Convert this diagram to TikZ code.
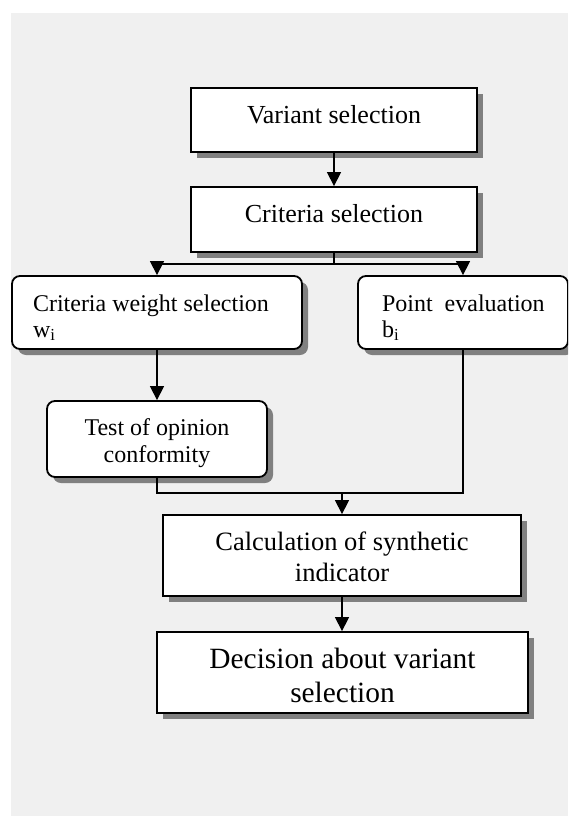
\documentclass[tikz,border=0pt]{standalone}
\usepackage{fontspec}
\setmainfont{Liberation Serif}
\usetikzlibrary{arrows.meta,shadows}
\definecolor{bggray}{RGB}{240,240,240}
\definecolor{shgray}{RGB}{128,128,128}
% #1 reported height, #2 reported depth, #3 column spec, #4 text
\newcommand{\btxt}[4]{\raisebox{0pt}[#1][#2]{\begin{tabular}[t]{@{}#3@{}}#4\end{tabular}}}
\newcommand{\ltxt}[4]{\raisebox{0pt}[#1][#2]{\makebox[#3][l]{\begin{tabular}[t]{@{}l@{}}#4\end{tabular}}}}
\tikzset{
  sqbox/.style={draw=black, line width=1.8pt, fill=white, inner sep=0pt,
    drop shadow={shadow xshift=6pt, shadow yshift=-6pt, fill=shgray, opacity=1}},
  rdbox/.style={sqbox, rounded corners=8pt},
  conn/.style={line width=1.3pt},
  arr/.style={conn, -{Triangle[width=14pt,length=14pt]}},
}
\begin{document}
\begin{tikzpicture}[x=1pt,y=-1pt]
\useasboundingbox (0,0) rectangle (568,816);
\clip (0,0) rectangle (568,816);
\fill[white] (0,0) rectangle (568,816);
\fill[bggray] (11,13) rectangle (568,816);

\node[sqbox, minimum width=286pt, minimum height=64pt, font=\fontsize{26}{30}\selectfont]
  (var) at (334,120) {\btxt{6pt}{0pt}{c}{Variant selection}};
\node[sqbox, minimum width=286pt, minimum height=65pt, font=\fontsize{26}{30}\selectfont]
  (crit) at (334,219.5) {\btxt{5pt}{0pt}{c}{Criteria selection}};
\node[rdbox, minimum width=290pt, minimum height=73pt, font=\fontsize{24}{26}\selectfont]
  (weight) at (157,312.5) {\ltxt{0pt}{3pt}{248pt}{Criteria weight selection\\ w\textsubscript{i}}};
\node[rdbox, minimum width=210pt, minimum height=73pt, font=\fontsize{24}{26}\selectfont]
  (point) at (463,312.5) {\ltxt{0pt}{3pt}{162pt}{Point\hspace{6pt} evaluation\\ b\textsubscript{i}}};
\node[rdbox, minimum width=220pt, minimum height=76pt, font=\fontsize{24}{27}\selectfont]
  (test) at (157,439) {\btxt{0pt}{8pt}{c}{Test of opinion\\ conformity}};
\node[sqbox, minimum width=358pt, minimum height=81pt, font=\fontsize{26.5}{31}\selectfont]
  (calc) at (342,555.5) {\btxt{0pt}{11pt}{c}{Calculation of synthetic\\ indicator}};
\node[sqbox, minimum width=371pt, minimum height=81pt, font=\fontsize{29.4}{34}\selectfont]
  (dec) at (342.5,672.5) {\btxt{0pt}{9pt}{c}{Decision about variant\\ selection}};

\coordinate (split) at (334,264);
\coordinate (join) at (342,493);

\draw[arr] (var.south) -- (crit.north);
\draw[conn] (crit.south) -- (split);
\draw[arr] (split) -| (weight.north);
\draw[arr] (split) -| (point.north);
\draw[arr] (weight.south) -- (test.north);
\draw[conn] (test.south) |- (join);
\draw[conn] (point.south) |- (join);
\draw[arr] (join) -- (calc.north);
\draw[arr] (calc.south) -- (calc.south |- dec.north);
\end{tikzpicture}
\end{document}
